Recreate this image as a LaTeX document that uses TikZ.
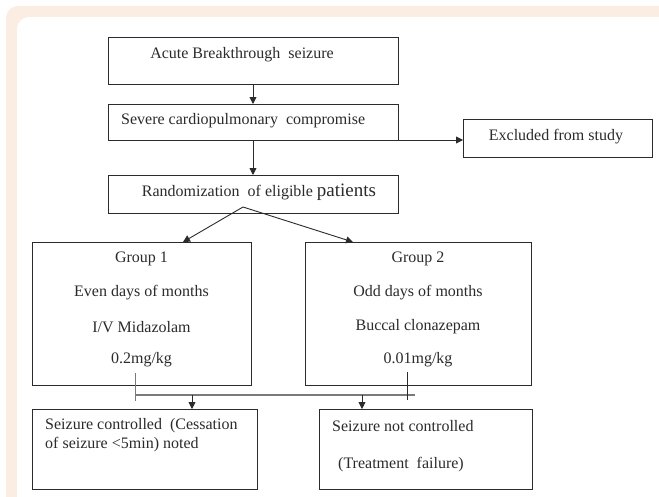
\documentclass[tikz,border=0pt]{standalone}
\usepackage{fontspec}
\setmainfont{Liberation Serif}
\usetikzlibrary{calc,arrows.meta}
\definecolor{peach}{HTML}{FCEDE2}
\definecolor{ink}{HTML}{2B2B2B}
\definecolor{greyline}{HTML}{7A7A7A}
\begin{document}
\begin{tikzpicture}[x=1pt,y=-1pt,
  box/.style={draw=ink, line width=1pt, inner sep=0pt, outer sep=0pt},
  txt/.style={inner sep=0pt, font=\fontsize{16}{18}\selectfont, text=ink},
  conn/.style={draw=ink, line width=0.9pt},
  arr/.style={conn, -{Triangle[length=7pt,width=7pt]}}]
\useasboundingbox (0,0) rectangle (659,496);
\fill[white] (0,0) rectangle (659,496);
\fill[peach, rounded corners=12pt] (6,6) rectangle (690,530);
\fill[white, rounded corners=12pt] (17,17) rectangle (680,520);
% boxes
\node[box, minimum width=290pt, minimum height=47pt] (A) at (253,60.5) {};
\node[box, minimum width=290pt, minimum height=36pt] (B) at (253,122) {};
\node[box, minimum width=189pt, minimum height=38pt] (C) at (557.5,138) {};
\node[box, minimum width=290pt, minimum height=38pt] (D) at (253,194) {};
\node[box, minimum width=219pt, minimum height=143pt] (G1) at (141.5,313.5) {};
\node[box, minimum width=226pt, minimum height=143pt] (G2) at (418,313.5) {};
\node[box, minimum width=225pt, minimum height=80pt] (E) at (144.5,449) {};
\node[box, minimum width=213pt, minimum height=80pt] (F) at (425.5,449) {};
% texts
\node[txt] (tA) at (242,55) {Acute Breakthrough\ \ seizure};
\node[txt, anchor=west] (tB) at (121,121) {Severe cardiopulmonary\ \ compromise};
\node[txt] (tC) at (556,137) {Excluded from study};
\node[txt] (tD) at (259,192) {Randomization\ \ of eligible {\fontsize{19}{20}\selectfont patients}};
\node[txt] (g1a) at (141.5,259) {Group 1};
\node[txt] (g1b) at (141.5,293) {Even days of months};
\node[txt] (g1c) at (141.5,327) {I/V Midazolam};
\node[txt] (g1d) at (141.5,360) {0.2mg/kg};
\node[txt] (g2a) at (418,259) {Group 2};
\node[txt] (g2b) at (418,293) {Odd days of months};
\node[txt] (g2c) at (418,327) {Buccal clonazepam};
\node[txt] (g2d) at (418,360) {0.01mg/kg};
\node[txt, anchor=west] (e1) at (45,426) {Seizure controlled\ \ (Cessation};
\node[txt, anchor=west] (e2) at (45,445) {of seizure <5min) noted};
\node[txt, anchor=west] (f1) at (332,426) {Seizure not controlled};
\node[txt, anchor=west] (f2) at (338,465) {(Treatment\ \ failure)};
% connectors
\draw[arr] (A.south) -- (B.north);
\draw[arr] (B.south) -- (D.north);
\draw[arr] (B.south east) -- (C.west |- B.south east);
\coordinate (Dp) at (243,207);
\draw[arr] (Dp) -- ($(G1.north east)+(-68,0)$);
\draw[arr] (Dp) -- ($(G2.north west)+(48,0)$);
\coordinate (L1) at (135,373);
\coordinate (L2) at (135,401);
\coordinate (H1) at (135,395);
\coordinate (H2) at (415,395);
\coordinate (R1) at (407,372);
\coordinate (R2) at (407,400);
\draw[conn, draw=greyline, line width=1.2pt] (H1) -- (H2);
\draw[conn, draw=greyline] (L1) -- (L2);
\draw[conn] (R1) -- (R2);
\draw[arr] (192,395) -- ($(E.north west)+(160,0)$);
\draw[arr] (362,395) -- ($(F.north west)+(43,0)$);
\end{tikzpicture}
\end{document}
